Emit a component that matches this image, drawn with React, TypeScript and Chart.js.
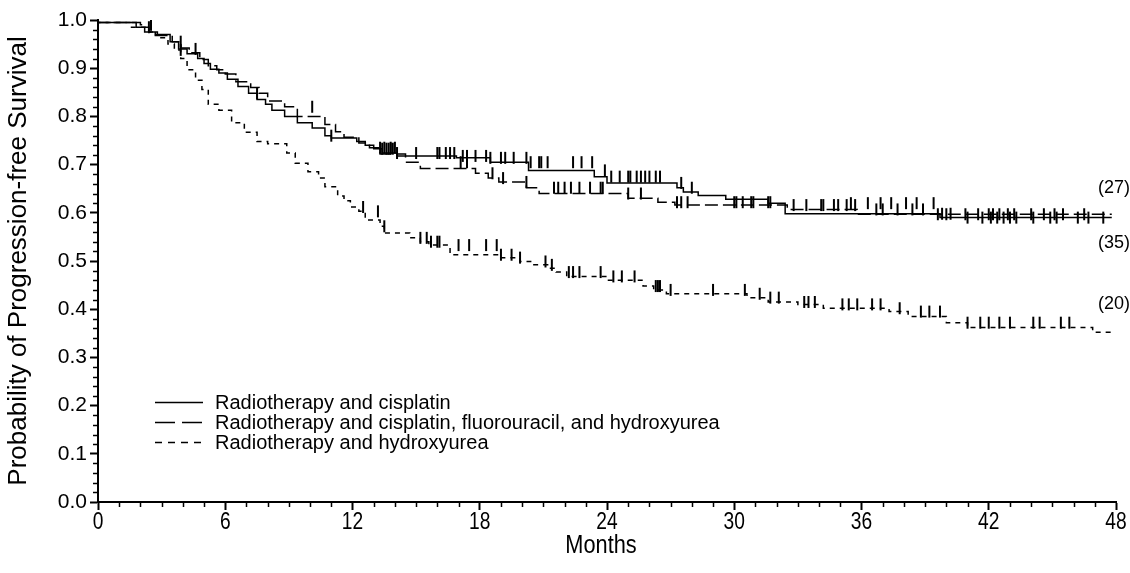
import React, { useEffect, useRef } from "react";
import { Chart, registerables } from "chart.js";

Chart.register(...registerables);

// ---------- data ----------
const monthTicks = [0, 6, 12, 18, 24, 30, 36, 42, 48];
const probTicks = [0.0, 0.1, 0.2, 0.3, 0.4, 0.5, 0.6, 0.7, 0.8, 0.9, 1.0];
const xTitle = "Months";
const yTitle = "Probability of Progression-free Survival";

const seriesNames = [
  "Radiotherapy and cisplatin",
  "Radiotherapy and cisplatin, fluorouracil, and hydroxyurea",
  "Radiotherapy and hydroxyurea",
];
const atRiskCounts = [27, 35, 20];

// Radiotherapy and cisplatin (solid)
const cisTimes = [0, 1.8, 2.4, 2.7, 3.4, 3.8, 4.2, 4.7, 5.0, 5.3, 5.7, 6.1, 6.6, 7.1, 7.5, 7.9, 8.2, 8.8, 9.4, 10.1, 10.7, 11.0, 12.2, 12.6, 13.0, 13.4, 14.1, 16.9, 18.5, 20.3, 23.4, 24.0, 27.3, 27.6, 28.3, 29.6, 31.6, 32.4, 39.7, 40.5, 47.8];
const cisSurv = [1.0, 0.995, 0.985, 0.975, 0.97, 0.955, 0.94, 0.93, 0.92, 0.91, 0.898, 0.89, 0.877, 0.862, 0.848, 0.835, 0.825, 0.813, 0.8, 0.787, 0.776, 0.76, 0.755, 0.748, 0.74, 0.733, 0.724, 0.718, 0.714, 0.705, 0.688, 0.675, 0.662, 0.652, 0.643, 0.636, 0.628, 0.62, 0.598, 0.59, 0.59];
const cisCensored = [2.4, 4.6, 7.5, 11.0, 13.4, 13.6, 13.7, 13.8, 13.9, 14.1, 15.0, 16.0, 16.1, 16.4, 16.6, 16.8, 17.2, 17.4, 17.8, 18.3, 18.5, 19.0, 19.2, 19.6, 20.2, 20.4, 20.8, 20.9, 21.2, 22.4, 22.8, 23.3, 23.9, 24.2, 24.6, 25.0, 25.1, 25.4, 25.6, 25.8, 26.0, 26.3, 26.5, 27.5, 28.0, 35.5, 36.3, 36.9, 37.4, 38.1, 38.6, 39.4, 39.8, 40.2, 41.0, 41.7, 42.1, 42.4, 42.7, 43.0, 43.3, 44.1, 44.9, 45.2, 46.2, 46.7, 47.4];

// Radiotherapy and cisplatin, fluorouracil, and hydroxyurea (long dash)
const cfhTimes = [0, 2.0, 2.2, 2.6, 3.5, 3.9, 4.3, 4.8, 5.2, 5.6, 6.0, 6.5, 7.2, 7.6, 8.0, 8.8, 9.4, 10.7, 11.2, 11.6, 12.3, 12.8, 13.3, 14.5, 15.2, 17.8, 18.4, 18.9, 20.2, 20.8, 25.0, 26.4, 27.2, 32.5, 35.8, 39.6, 47.8];
const cfhSurv = [1.0, 0.995, 0.99, 0.975, 0.968, 0.955, 0.942, 0.932, 0.918, 0.905, 0.897, 0.888, 0.872, 0.86, 0.848, 0.832, 0.82, 0.8, 0.783, 0.768, 0.757, 0.745, 0.735, 0.722, 0.705, 0.692, 0.682, 0.672, 0.664, 0.652, 0.64, 0.63, 0.622, 0.616, 0.607, 0.597, 0.597];
const cfhCensored = [2.5, 3.9, 10.1, 13.3, 13.5, 13.8, 14.0, 17.1, 17.4, 18.6, 19.1, 20.2, 21.5, 21.7, 22.0, 22.3, 22.7, 23.2, 23.7, 23.8, 25.0, 25.6, 27.3, 27.5, 27.8, 30.0, 30.1, 30.4, 30.8, 30.9, 31.6, 31.7, 32.8, 33.4, 34.1, 34.2, 34.7, 34.9, 35.3, 35.7, 36.7, 37.0, 37.7, 38.4, 38.9, 39.6, 40.0, 40.9, 41.5, 42.0, 42.2, 42.5, 42.9, 43.2, 44.0, 44.6, 45.1, 45.5, 46.5];

// Radiotherapy and hydroxyurea (short dash)
const huTimes = [0, 1.5, 2.4, 2.8, 3.3, 3.6, 3.9, 4.2, 4.6, 4.9, 5.2, 5.7, 6.3, 6.9, 7.5, 8.0, 8.9, 9.3, 9.9, 10.4, 10.7, 11.3, 11.6, 11.9, 12.3, 12.6, 13.3, 13.5, 14.7, 15.2, 15.6, 16.6, 19.0, 19.9, 20.4, 21.2, 21.6, 22.1, 24.0, 25.7, 26.2, 26.8, 30.6, 31.6, 33.0, 34.2, 37.3, 38.2, 40.0, 41.0, 46.9, 47.3, 47.8];
const huSurv = [1.0, 0.995, 0.985, 0.975, 0.963, 0.95, 0.938, 0.92, 0.897, 0.875, 0.856, 0.825, 0.813, 0.787, 0.767, 0.748, 0.743, 0.724, 0.703, 0.685, 0.672, 0.654, 0.635, 0.625, 0.612, 0.603, 0.585, 0.572, 0.558, 0.548, 0.54, 0.533, 0.513, 0.507, 0.499, 0.492, 0.485, 0.477, 0.468, 0.46, 0.448, 0.44, 0.432, 0.424, 0.415, 0.41, 0.402, 0.395, 0.385, 0.372, 0.362, 0.352, 0.352];
const huCensored = [3.9, 12.5, 13.2, 13.5, 15.2, 15.5, 15.7, 16.0, 16.1, 17.0, 17.5, 18.3, 18.8, 19.0, 19.5, 19.9, 21.1, 21.4, 22.2, 22.4, 22.7, 23.7, 24.3, 24.7, 25.3, 26.3, 26.4, 26.5, 27.0, 29.0, 30.5, 31.2, 31.7, 32.1, 33.3, 33.5, 33.8, 35.1, 35.4, 35.8, 36.5, 36.9, 37.8, 38.8, 39.2, 39.7, 41.0, 41.6, 42.0, 42.5, 43.0, 44.1, 44.4, 45.4, 45.8];

// ---------- helpers ----------
function survAt(times: number[], surv: number[], t: number) {
  let v = surv[0];
  for (let i = 0; i < times.length; i++) if (times[i] <= t) v = surv[i];
  return v;
}
const curvePoints = (times: number[], surv: number[]) => times.map((t, i) => ({ x: t, y: surv[i] }));
const censorPoints = (times: number[], surv: number[], cens: number[]) =>
  cens.map((t) => ({ x: t, y: survAt(times, surv, t) }));

const FONT = "'Liberation Sans', Arial, Helvetica, sans-serif";
const plotDashes = [[], [13, 5], [5, 5]];
const legendDashes = [[], [20, 7], [7, 6]];

// minor ticks on both axes
const minorTicksPlugin = {
  id: "minorTicks",
  afterDraw(chart: any) {
    const { ctx, chartArea, scales } = chart;
    const xs = scales.x, ys = scales.y;
    ctx.save();
    ctx.strokeStyle = "#000";
    ctx.lineWidth = 1.5;
    ctx.beginPath();
    for (let m = 0; m <= 48; m++) {
      if (m % 6 === 0) continue;
      const px = Math.round(xs.getPixelForValue(m)) + 0.5;
      ctx.moveTo(px, chartArea.bottom);
      ctx.lineTo(px, chartArea.bottom + 5);
    }
    for (let k = 0; k <= 50; k++) {
      if (k % 5 === 0) continue;
      const py = Math.round(ys.getPixelForValue(k * 0.02)) + 0.5;
      ctx.moveTo(chartArea.left, py);
      ctx.lineTo(chartArea.left - 5, py);
    }
    ctx.stroke();
    ctx.restore();
  },
};

// condensed x-axis labels and title
const xLabelsPlugin = {
  id: "xLabels",
  afterDraw(chart: any) {
    const { ctx, chartArea, scales } = chart;
    ctx.save();
    ctx.fillStyle = "#000";
    ctx.textAlign = "center";
    ctx.textBaseline = "middle";
    ctx.font = `24px ${FONT}`;
    monthTicks.forEach((v) => {
      ctx.save();
      ctx.translate(scales.x.getPixelForValue(v), chartArea.bottom + 20);
      ctx.scale(0.8, 1);
      ctx.fillText(String(v), 0, 0);
      ctx.restore();
    });
    ctx.font = `25px ${FONT}`;
    ctx.save();
    ctx.translate((chartArea.left + chartArea.right) / 2 - 6, chartArea.bottom + 44);
    ctx.scale(0.87, 1);
    ctx.fillText(xTitle, 0, 0);
    ctx.restore();
    ctx.restore();
  },
};

const legendPlugin = {
  id: "customLegend",
  afterDraw(chart: any) {
    const { ctx, chartArea } = chart;
    ctx.save();
    ctx.strokeStyle = "#000";
    ctx.fillStyle = "#000";
    ctx.lineWidth = 1.5;
    ctx.font = `20px ${FONT}`;
    ctx.textBaseline = "middle";
    const x0 = chartArea.left + 57;
    const y0 = chartArea.top + 382;
    seriesNames.forEach((name, i) => {
      const y = y0 + i * 20;
      ctx.setLineDash(legendDashes[i]);
      ctx.beginPath();
      ctx.moveTo(x0, y + 0.5);
      ctx.lineTo(x0 + 48, y + 0.5);
      ctx.stroke();
      ctx.setLineDash([]);
      ctx.fillText(name, x0 + 60, y + 1);
    });
    ctx.restore();
  },
};

const atRiskPlugin = {
  id: "atRisk",
  afterDraw(chart: any) {
    const { ctx, scales } = chart;
    const ys = [0.652, 0.538, 0.41];
    ctx.save();
    ctx.fillStyle = "#000";
    ctx.font = `18px ${FONT}`;
    ctx.textAlign = "center";
    ctx.textBaseline = "middle";
    atRiskCounts.forEach((n, i) => {
      ctx.fillText(`(${n})`, scales.x.getPixelForValue(48) - 2, scales.y.getPixelForValue(ys[i]));
    });
    ctx.restore();
  },
};

export default function App() {
  const ref = useRef<HTMLCanvasElement | null>(null);
  useEffect(() => {
    if (!ref.current) return;
    const curves = [
      [cisTimes, cisSurv, cisCensored],
      [cfhTimes, cfhSurv, cfhCensored],
      [huTimes, huSurv, huCensored],
    ] as number[][][];
    const datasets: any[] = [];
    curves.forEach(([t, s], i) => {
      datasets.push({
        label: seriesNames[i],
        data: curvePoints(t, s),
        stepped: "after",
        borderColor: "#000",
        borderWidth: 1.5,
        borderDash: plotDashes[i],
        pointRadius: 0,
        fill: false,
      });
    });
    curves.forEach(([t, s, c], i) => {
      datasets.push({
        label: seriesNames[i] + " censored",
        data: censorPoints(t, s, c),
        showLine: false,
        pointStyle: "line",
        rotation: 90,
        pointRadius: 6,
        pointBorderWidth: 2,
        pointBorderColor: "#000",
        borderColor: "#000",
      });
    });
    const chart = new Chart(ref.current, {
      type: "line",
      data: { datasets },
      options: {
        animation: false,
        responsive: true,
        maintainAspectRatio: false,
        layout: { padding: { top: 20, right: 14, left: 0, bottom: 0 } },
        plugins: { legend: { display: false }, tooltip: { enabled: false } },
        scales: {
          x: {
            type: "linear",
            min: 0,
            max: 48,
            afterFit: (s: any) => { s.height = 71; },
            afterBuildTicks: (s: any) => { s.ticks = monthTicks.map((v) => ({ value: v })); },
            ticks: { display: false },
            grid: { drawOnChartArea: false, drawTicks: true, tickLength: 8, tickWidth: 2, tickColor: "#000" },
            border: { display: true, color: "#000", width: 2 },
            title: { display: false },
          },
          y: {
            type: "linear",
            min: 0,
            max: 1,
            afterFit: (s: any) => { s.width = 98; },
            afterBuildTicks: (s: any) => { s.ticks = probTicks.map((v) => ({ value: v })); },
            ticks: { color: "#000", font: { family: FONT, size: 21 }, padding: 3, callback: (v: any) => Number(v).toFixed(1) },
            grid: { drawOnChartArea: false, drawTicks: true, tickLength: 8, tickWidth: 2, tickColor: "#000" },
            border: { display: true, color: "#000", width: 2 },
            title: { display: true, text: yTitle, color: "#000", font: { family: FONT, size: 26 }, padding: { top: 3, bottom: 0 } },
          },
        },
      },
      plugins: [minorTicksPlugin, xLabelsPlugin, legendPlugin, atRiskPlugin],
    });
    return () => chart.destroy();
  }, []);
  return (
    <div style={{ position: "fixed", left: 0, top: 0, width: 1130, height: 573, background: "#fff" }}>
      <canvas ref={ref} />
    </div>
  );
}
